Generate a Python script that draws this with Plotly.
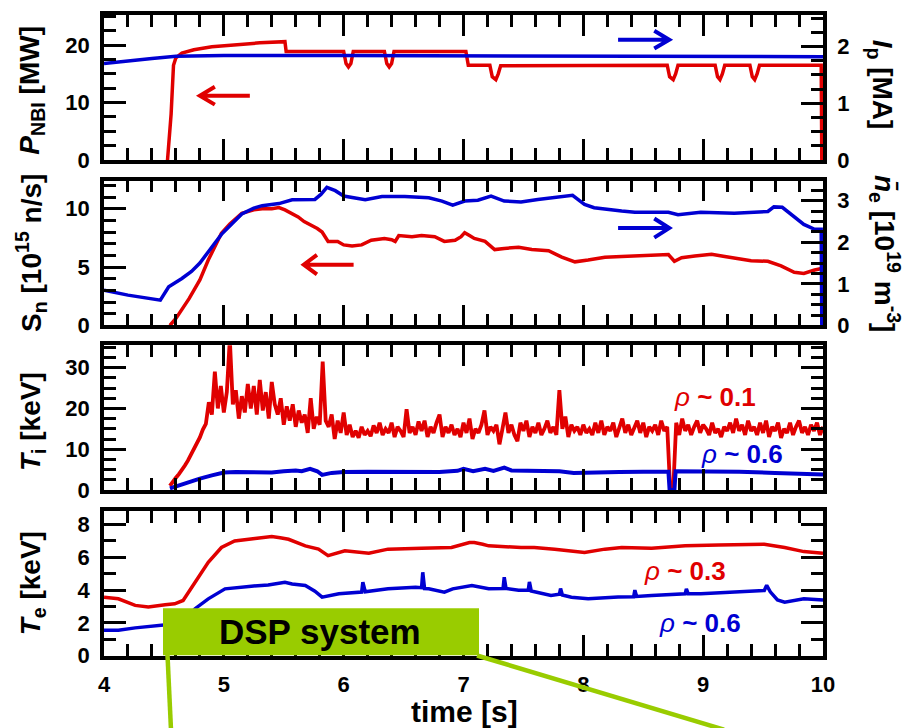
import numpy as np
import plotly.graph_objects as go

# ---------------- data ----------------
# NBI power [MW]
pnbi_t = [4.53, 4.56, 4.58, 4.60, 4.65, 4.75, 4.90, 5.10, 5.30, 5.51, 5.52, 6.00, 6.02, 6.04, 6.06, 6.08,
          6.34, 6.36, 6.38, 6.40, 6.42, 7.02, 7.04, 7.22, 7.24, 7.27, 7.29, 7.31, 8.70, 8.72, 8.75, 8.77,
          8.79, 9.10, 9.12, 9.14, 9.16, 9.18, 9.39, 9.41, 9.43, 9.45, 9.47, 9.985, 9.99]
pnbi_v = [0.0, 8.0, 16.5, 17.8, 18.6, 19.2, 19.7, 20.1, 20.4, 20.6, 18.9, 18.9, 16.8, 16.2, 16.8, 18.9,
          18.9, 16.8, 16.2, 16.8, 18.9, 18.9, 16.5, 16.5, 14.5, 14.0, 15.0, 16.4, 16.5, 14.5, 14.0, 15.0,
          16.5, 16.5, 14.5, 14.0, 15.0, 16.5, 16.5, 14.5, 14.0, 15.0, 16.5, 16.5, 0.0]

# plasma current [MA]
ip_t = [4.0, 4.2, 4.4, 4.6, 5.0, 6.0, 7.0, 8.0, 9.0, 10.0]
ip_v = [1.70, 1.75, 1.79, 1.83, 1.84, 1.84, 1.835, 1.83, 1.83, 1.82]

# neutron rate [1e15 n/s]
sn_t = [4.55, 4.60, 4.71, 4.80, 4.87, 4.93, 4.98, 5.05, 5.15, 5.25, 5.32, 5.40, 5.46, 5.51, 5.55, 5.62,
        5.67, 5.73, 5.78, 5.82, 5.87, 5.95, 6.00, 6.07, 6.15, 6.23, 6.34, 6.40, 6.43, 6.46, 6.57, 6.65,
        6.76, 6.84, 6.93, 6.98, 7.01, 7.05, 7.09, 7.18, 7.26, 7.34, 7.46, 7.57, 7.71, 7.82, 7.93, 8.04,
        8.18, 8.32, 8.43, 8.60, 8.71, 8.76, 8.82, 8.93, 9.07, 9.18, 9.26, 9.40, 9.54, 9.65, 9.76, 9.84,
        9.93, 10.0]
sn_v = [0.0, 0.6, 2.3, 3.9, 5.6, 6.9, 7.9, 8.7, 9.6, 9.9, 10.0, 10.0, 10.1, 9.9, 9.7, 9.3,
        8.9, 8.6, 8.3, 8.0, 7.2, 7.2, 6.9, 6.8, 6.9, 7.3, 7.45, 7.35, 7.2, 7.7, 7.6, 7.7,
        7.6, 7.2, 7.3, 7.6, 7.95, 7.7, 7.45, 7.2, 6.5, 6.6, 6.7, 6.5, 6.4, 5.85, 5.45, 5.6,
        5.85, 5.9, 5.94, 6.0, 6.07, 5.5, 5.8, 5.95, 6.1, 5.9, 5.75, 5.55, 5.5, 5.1, 4.55, 4.45,
        4.75, 4.9]

# line-averaged density [1e19 m^-3]
ne_t = [4.0, 4.2, 4.47, 4.50, 4.54, 4.65, 4.73, 4.80, 4.87, 4.98, 5.07, 5.15, 5.25, 5.32, 5.46, 5.57,
        5.76, 5.81, 5.86, 5.93, 6.00, 6.18, 6.32, 6.51, 6.71, 6.82, 6.91, 7.01, 7.12, 7.23, 7.34, 7.48,
        7.62, 7.79, 7.91, 8.01, 8.09, 8.32, 8.43, 8.71, 8.79, 8.98, 9.26, 9.54, 9.59, 9.66, 9.73, 9.84,
        9.93, 9.985, 9.99]
ne_v = [0.85, 0.73, 0.61, 0.75, 0.93, 1.13, 1.30, 1.50, 1.78, 2.19, 2.45, 2.68, 2.82, 2.88, 2.93, 3.02,
        3.03, 3.15, 3.32, 3.24, 3.11, 3.02, 3.10, 3.10, 3.07, 2.99, 2.89, 2.99, 3.01, 3.11, 2.99, 2.97,
        3.03, 3.08, 3.13, 2.91, 2.83, 2.75, 2.72, 2.72, 2.66, 2.72, 2.70, 2.74, 2.85, 2.84, 2.68, 2.43,
        2.31, 2.31, 0.0]

# ion temperature, rho ~ 0.1 [keV], sampled every 25 ms from 4.55 s
ti_core_t0 = 4.55
ti_core_dt = 0.025
ti_core_v = [
    1.0, 2.2, 3.0, 3.9, 4.8, 6.0, 7.2, 8.6, 9.8, 11.6, 12.9, 14.8, 16.2, 21.5, 18.5, 29.0,
    20.0, 25.5, 19.0, 24.0, 37.0, 21.0, 24.5, 17.5, 23.0, 19.0, 26.0, 20.0, 25.5, 18.5, 27.0, 19.5,
    24.0, 17.5, 26.5, 21.0, 18.5, 22.5, 16.0, 20.5, 17.0, 21.0, 15.5, 19.5, 16.5, 18.5, 14.0, 22.5,
    15.0, 18.0, 16.0, 31.5, 17.0, 15.5, 18.5, 12.5, 17.0, 14.0, 19.0, 13.5, 16.0, 13.0, 14.5, 12.8,
    15.5, 13.5, 14.5, 13.2, 15.8, 14.0, 16.5, 13.5, 15.0, 14.0, 16.5, 13.0, 15.5, 14.5, 13.0, 19.8,
    14.0, 15.5, 13.5, 16.8, 14.5, 17.0, 13.0, 15.5, 14.0, 16.5, 18.5, 13.0, 15.5, 14.0, 16.0, 13.5,
    15.0, 13.0, 16.5, 14.0, 17.5, 12.5, 15.0, 14.0, 16.0, 19.5, 13.5, 15.5, 14.5, 16.0, 11.2, 15.0,
    19.0, 14.0, 16.0, 13.5, 12.0, 16.5, 14.5, 17.0, 13.0, 15.5, 14.0, 16.5, 13.5, 15.0, 17.0, 14.0,
    15.5, 13.5, 24.5, 15.0, 18.0, 13.0, 16.0, 14.5, 15.5, 13.5, 16.0, 14.0, 15.0, 13.5, 16.5, 14.0,
    17.0, 13.5, 15.5, 14.5, 16.5, 13.0, 15.5, 17.5, 14.0, 16.0, 13.5, 15.0, 17.0, 14.0, 16.5, 13.0,
    15.5, 14.5, 16.0, 13.5, 17.0, 14.5, 15.5, 0.0, 0.0, 16.5, 13.5, 17.5, 14.5, 16.0, 13.5, 15.5,
    17.0, 14.0, 16.0, 15.0, 13.5, 16.5, 14.0, 15.0, 13.0, 15.5, 14.5, 16.5, 14.0, 17.5, 14.5, 16.0,
    13.5, 17.0, 14.5, 15.5, 13.5, 16.5, 14.0, 17.0, 13.0, 15.5, 14.5, 16.5, 12.8, 15.0, 14.0, 16.5,
    13.5, 15.5, 17.0, 14.0, 15.5, 13.5, 16.0, 14.5, 16.5, 13.5, 15.5]

# ion temperature, rho ~ 0.6 [keV]
ti_edge_t = [4.55, 4.60, 4.70, 4.80, 4.90, 5.00, 5.10, 5.20, 5.30, 5.40, 5.50, 5.60, 5.65, 5.72, 5.78,
             5.82, 5.90, 6.00, 6.20, 6.40, 6.60, 6.80, 6.95, 7.00, 7.08, 7.18, 7.25, 7.34, 7.40, 7.60,
             7.80, 7.92, 8.10, 8.30, 8.50, 8.71, 8.72, 8.76, 8.77, 9.00, 9.30, 9.60, 9.80, 10.0]
ti_edge_v = [0.4, 0.9, 1.9, 2.8, 3.6, 4.3, 4.4, 4.4, 4.5, 4.3, 4.6, 4.8, 4.6, 5.2, 4.6,
             3.7, 4.2, 4.4, 4.5, 4.5, 4.5, 4.4, 4.7, 5.2, 4.6, 5.2, 4.7, 5.5, 4.8, 4.7,
             4.6, 4.2, 4.2, 4.4, 4.45, 4.5, 0.0, 0.0, 4.6, 4.6, 4.5, 4.2, 3.9, 3.8]

# electron temperature, rho ~ 0.3 [keV]
te_core_t = [4.0, 4.12, 4.26, 4.37, 4.51, 4.59, 4.66, 4.76, 4.87, 4.98, 5.09, 5.26, 5.40, 5.47, 5.54,
             5.68, 5.79, 5.87, 6.01, 6.21, 6.37, 6.65, 6.90, 7.05, 7.09, 7.16, 7.21, 7.48, 7.59, 7.76,
             7.96, 8.01, 8.18, 8.32, 8.57, 8.85, 9.13, 9.51, 9.68, 9.84, 10.0]
te_core_v = [3.57, 3.47, 3.07, 2.97, 3.11, 3.17, 3.37, 4.48, 5.70, 6.60, 7.00, 7.15, 7.27, 7.20, 7.10,
             6.70, 6.50, 6.10, 6.40, 6.25, 6.50, 6.55, 6.60, 6.90, 6.90, 6.80, 6.70, 6.60, 6.60, 6.50,
             6.30, 6.30, 6.50, 6.60, 6.55, 6.70, 6.75, 6.80, 6.60, 6.35, 6.25]

# electron temperature, rho ~ 0.6 [keV]
te_edge_t = [4.0, 4.12, 4.26, 4.40, 4.51, 4.60, 4.70, 4.76, 4.87, 5.01, 5.23, 5.37, 5.51, 5.57, 5.68,
             5.76, 5.82, 5.96, 6.15, 6.16, 6.18, 6.37, 6.60, 6.65, 6.66, 6.675, 6.71, 6.84, 6.91, 7.07,
             7.21, 7.33, 7.34, 7.355, 7.46, 7.54, 7.55, 7.565, 7.73, 7.80, 7.81, 7.825, 7.90, 8.04, 8.29,
             8.42, 8.43, 8.445, 8.57, 8.85, 8.86, 8.875, 8.98, 9.26, 9.51, 9.53, 9.56, 9.62, 9.68, 9.84,
             10.0]
te_edge_v = [1.55, 1.55, 1.70, 1.80, 1.85, 1.95, 2.40, 2.87, 3.47, 4.08, 4.24, 4.32, 4.48, 4.38, 4.28,
             3.94, 3.57, 3.78, 3.88, 4.48, 3.90, 4.08, 4.18, 4.15, 5.09, 4.10, 4.08, 3.88, 4.08, 4.28,
             4.08, 4.10, 4.79, 4.10, 4.00, 4.00, 4.50, 3.95, 3.67, 3.75, 4.10, 3.70, 3.57, 3.47, 3.58,
             3.60, 4.00, 3.62, 3.67, 3.78, 4.08, 3.78, 3.78, 3.88, 3.98, 4.30, 3.90, 3.40, 3.27, 3.47,
             3.40]

ti_core_t = ti_core_t0 + ti_core_dt * np.arange(len(ti_core_v))

# ---------------- styling ----------------
RED = "#e00000"
BLUE = "#0000d2"
GREEN = "#99cc00"
FONT = "Liberation Sans, Arial, sans-serif"
LW = 3.5

W, H = 905, 728
ML, MR, MT, MB = 104, 82, 12, 72
PW, PH = W - ML - MR, H - MT - MB


def fx(px):
    return (px - ML) / PW


def fy(py):
    return (H - MB - py) / PH


# panel inner edges in page pixels (top, bottom)
panels = [(12.25, 157.75), (178.45, 323.95), (343.75, 489.25), (510.75, 655.75)]
dom = [[max(0.0, fy(b)), min(1.0, fy(t))] for t, b in panels]

fig = go.Figure()


def line(x, y, xa, ya, color, width=LW):
    fig.add_trace(go.Scatter(x=x, y=y, xaxis=xa, yaxis=ya, mode="lines",
                             line=dict(color=color, width=width), hoverinfo="skip",
                             showlegend=False))


line(pnbi_t, pnbi_v, "x4", "y", RED)
line(ip_t, ip_v, "x4", "y2", BLUE)
line(sn_t, sn_v, "x3", "y3", RED)
line(ne_t, ne_v, "x3", "y4", BLUE)
line(ti_core_t, ti_core_v, "x2", "y5", RED, 3.8)
line(ti_edge_t, ti_edge_v, "x2", "y5", BLUE, 4)
line(te_core_t, te_core_v, "x", "y6", RED)
line(te_edge_t, te_edge_v, "x", "y6", BLUE)

tickfont = dict(family=FONT, size=22, color="black", weight="bold")


def xax(anchor, labels):
    return dict(domain=[0, 1], anchor=anchor, range=[4, 10], dtick=1, tick0=4,
                showticklabels=labels, tickfont=tickfont, ticks="inside", ticklen=21,
                tickwidth=3, tickcolor="black", showline=True, linewidth=3.5,
                linecolor="black", mirror="ticks", showgrid=False, zeroline=False,
                ticklabelstandoff=6,
                minor=dict(dtick=0.2, tick0=4, ticks="inside", ticklen=12, tickwidth=3,
                           tickcolor="black", showgrid=False))


def yax(d, rng, dtick, mdtick, mirror="ticks", side="left", overlay=None, anchor="x"):
    a = dict(range=rng, dtick=dtick, tick0=0, tickfont=tickfont, ticks="inside", ticklen=22,
             tickwidth=3, tickcolor="black", showline=True, linewidth=3.5, linecolor="black",
             mirror=mirror, showgrid=False, zeroline=False, side=side, ticklabelstandoff=6,
             minor=dict(dtick=mdtick, tick0=0, ticks="inside", ticklen=12, tickwidth=3,
                        tickcolor="black", showgrid=False))
    if overlay:
        a["overlaying"] = overlay
        a["anchor"] = anchor
    else:
        a["domain"] = d
        a["anchor"] = anchor
    return a


fig.update_layout(
    width=W, height=H, margin=dict(l=ML, r=MR, t=MT, b=MB),
    paper_bgcolor="white", plot_bgcolor="rgba(0,0,0,0)", showlegend=False,
    font=dict(family=FONT, color="black"),
    xaxis=xax("y6", True),
    xaxis2=xax("y5", False),
    xaxis3=xax("y3", False),
    xaxis4=xax("y", False),
    yaxis=yax(dom[0], [0, 25.2], 10, 2.5, mirror=True, anchor="x4"),
    yaxis2=yax(None, [0, 2.55], 1, 0.25, mirror=False, side="right", overlay="y", anchor="x4"),
    yaxis3=yax(dom[1], [0, 12.4], 5, 1, mirror=True, anchor="x3"),
    yaxis4=yax(None, [0, 3.48], 1, 0.25, mirror=False, side="right", overlay="y3", anchor="x3"),
    yaxis5=yax(dom[2], [0, 35.5], 10, 2.5, anchor="x2"),
    yaxis6=yax(dom[3], [0, 8.8], 2, 1, anchor="x"),
)
fig.layout.xaxis2.matches = "x"
fig.layout.xaxis3.matches = "x"
fig.layout.xaxis4.matches = "x"

shapes = []


def arrow(xref, yref, x_tip, x_tail, y, hdx, hdy, color):
    path = (f"M{x_tail},{y} L{x_tip},{y} "
            f"M{x_tip + hdx},{y + hdy} L{x_tip},{y} L{x_tip + hdx},{y - hdy}")
    shapes.append(dict(type="path", xref=xref, yref=yref, path=path,
                       line=dict(color=color, width=4), layer="above"))


# arrows point to the axis each trace is read against
arrow("x4", "y", 4.80, 5.217, 11.2, 0.125, 1.55, RED)
arrow("x4", "y2", 8.717, 8.29, 2.12, -0.125, 0.157, BLUE)
arrow("x3", "y3", 5.667, 6.083, 5.21, 0.11, 0.84, RED)
arrow("x3", "y4", 8.717, 8.29, 2.34, -0.125, 0.23, BLUE)

# DSP system call-out
shapes.append(dict(type="rect", xref="paper", yref="paper",
                   x0=fx(163), x1=fx(479), y0=fy(655.3), y1=fy(608),
                   fillcolor=GREEN, line=dict(width=0), layer="above"))
shapes.append(dict(type="line", xref="paper", yref="paper",
                   x0=fx(167.5), y0=fy(655), x1=fx(171), y1=fy(730),
                   line=dict(color=GREEN, width=4.5), layer="above"))
shapes.append(dict(type="line", xref="paper", yref="paper",
                   x0=fx(477), y0=fy(655.5), x1=fx(724), y1=fy(730),
                   line=dict(color=GREEN, width=4.5), layer="above"))
fig.update_layout(shapes=shapes)

ann = []


def text(x, y, s, size, angle=0, color="black", xanchor="center"):
    ann.append(dict(x=fx(x), y=fy(y), xref="paper", yref="paper", text=s, showarrow=False,
                    textangle=angle, xanchor=xanchor, yanchor="middle",
                    font=dict(family=FONT, size=size, color=color)))


text(32, 88, "<b><i>P</i><sub>NBI</sub> [MW]</b>", 28, -90)
text(31, 251, "<b>S<sub>n</sub> [10<sup>15</sup> n/s]</b>", 28, -90)
text(32, 421, "<b><i>T</i><sub>i</sub> [keV]</b>", 28, -90)
text(32, 583, "<b><i>T</i><sub>e</sub> [keV]</b>", 28, -90)
text(880, 82, "<b><i>I</i><sub>p</sub> [MA]</b>", 28, 90)
text(885, 252, "<b><i>n\u0304</i><sub>e</sub> [10<sup>19</sup> m<sup>-3</sup>]</b>", 28, 90)
text(464, 712, "<b>time [s]</b>", 30)
text(320, 631, "<b>DSP system</b>", 35)
text(715, 396, "<i>\u03c1</i><b> ~ 0.1</b>", 26, color=RED)
text(742, 453, "<i>\u03c1</i><b> ~ 0.6</b>", 26, color=BLUE)
text(685, 571, "<i>\u03c1</i><b> ~ 0.3</b>", 26, color=RED)
text(700, 623, "<i>\u03c1</i><b> ~ 0.6</b>", 26, color=BLUE)
fig.update_layout(annotations=ann)

fig.write_html("out.html")
